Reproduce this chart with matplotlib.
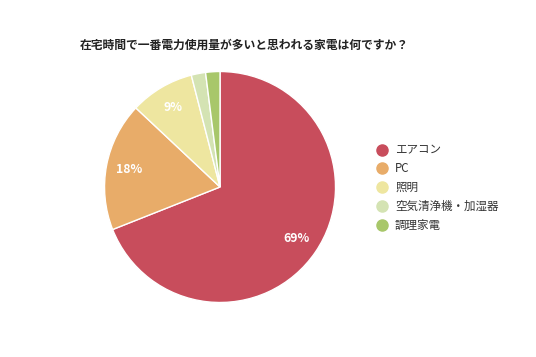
import matplotlib
matplotlib.use("Agg")
import matplotlib.pyplot as plt
from matplotlib.lines import Line2D

plt.rcParams['font.family'] = ['Noto Sans CJK JP', 'DejaVu Sans']

title = "在宅時間で一番電力使用量が多いと思われる家電は何ですか？"
categories = ["エアコン", "PC", "照明", "空気清浄機・加湿器", "調理家電"]
values = [69, 18, 9, 2, 2]
labels = ["69%", "18%", "9%", "", ""]
colors = ["#C84D5C", "#E8AC69", "#EEE6A0", "#D4E3B3", "#A8C76A"]

fig = plt.figure(figsize=(5.36, 3.57), dpi=100)
fig.patch.set_facecolor("white")

ax = fig.add_axes([0.195, 0.1527, 0.431, 0.647])
wedges, texts = ax.pie(values, colors=colors, startangle=90, counterclock=False,
                       labels=labels, labeldistance=0.8,
                       wedgeprops=dict(edgecolor="white", linewidth=1),
                       textprops=dict(color="white", fontsize=8.8, fontweight="bold"))
for t in texts:
    t.set_ha("center")
    t.set_va("center")
ax.set_xlim(-1, 1)
ax.set_ylim(-1, 1)
ax.set_aspect("equal")

fig.text(80/536, 1 - 45/357, title, fontsize=8.5, fontweight="bold", color="#222222",
         ha="left", va="center")

handles = [Line2D([0], [0], marker="o", linestyle="none", markersize=8,
                  markerfacecolor=c, markeredgecolor=c) for c in colors]
leg = fig.legend(handles, categories, loc="upper left",
                 bbox_to_anchor=(372/536, 1 - 139/357), frameon=False,
                 fontsize=8.3, labelspacing=0.5, handletextpad=0.6,
                 handlelength=1.0, borderaxespad=0)
for t in leg.get_texts():
    t.set_color("#333333")

fig.savefig("out.png", dpi=100, facecolor="white")
